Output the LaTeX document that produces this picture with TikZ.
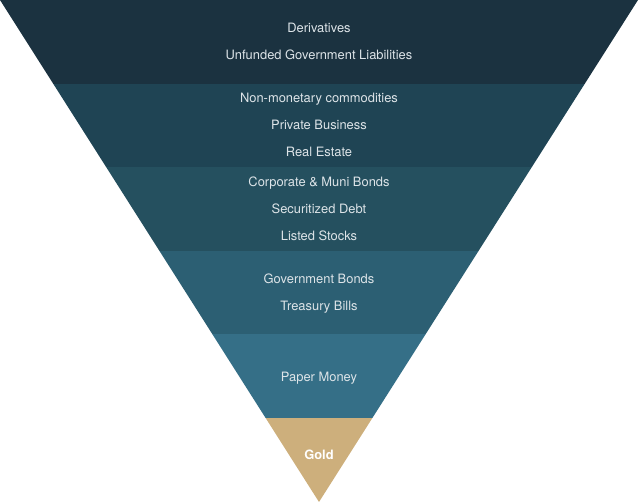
\documentclass[tikz,border=0pt]{standalone}
\usepackage{fontspec}
\setmainfont{TeX Gyre Heros}
\usepackage{xcolor}
\usetikzlibrary{positioning}
\definecolor{bandone}{HTML}{1B3240}
\definecolor{bandtwo}{HTML}{1F4454}
\definecolor{bandthree}{HTML}{25505F}
\definecolor{bandfour}{HTML}{2C5F73}
\definecolor{bandfive}{HTML}{356F87}
\definecolor{bandgold}{HTML}{CDAF7C}
\definecolor{lbltext}{HTML}{DDE4E8}
\tikzset{
  tierlbl/.style={text=lbltext,inner sep=0pt,text height=11pt,text depth=0pt,
    font=\fontsize{12.9}{14}\selectfont},
  goldlbl/.style={tierlbl,text=white,font=\fontsize{12.9}{14}\selectfont\bfseries},
}
\begin{document}
\begin{tikzpicture}[x=1pt,y=-1pt]
  \useasboundingbox (0,0) rectangle (638,502);
  \begin{scope}
    \clip (0,0) -- (638,0) -- (319,502) -- cycle;
    \fill[bandone]   (0,0)   rectangle (638,84);
    \fill[bandtwo]   (0,84)  rectangle (638,167);
    \fill[bandthree] (0,167) rectangle (638,251);
    \fill[bandfour]  (0,251) rectangle (638,334);
    \fill[bandfive]  (0,334) rectangle (638,418);
    \fill[bandgold]  (0,418) rectangle (638,502);
  \end{scope}
  % tier labels
  \node[tierlbl] (deriv)  at (319,27)  {Derivatives};
  \node[tierlbl] (unfund) at (319,54)  {Unfunded Government Liabilities};
  \node[tierlbl] (nonmon) at (319,97)  {Non-monetary commodities};
  \node[tierlbl] (privbz) at (319,124) {Private Business};
  \node[tierlbl] (realst) at (319,151) {Real Estate};
  \node[tierlbl] (corpmb) at (319,181) {Corporate \& Muni Bonds};
  \node[tierlbl] (secdbt) at (319,208) {Securitized Debt};
  \node[tierlbl] (listed) at (319,235) {Listed Stocks};
  \node[tierlbl] (govbnd) at (319,278) {Government Bonds};
  \node[tierlbl] (tbills) at (319,305) {Treasury Bills};
  \node[tierlbl] (paper)  at (319,376) {Paper Money};
  \node[goldlbl] (gold)   at (319,454) {Gold};
\end{tikzpicture}
\end{document}
